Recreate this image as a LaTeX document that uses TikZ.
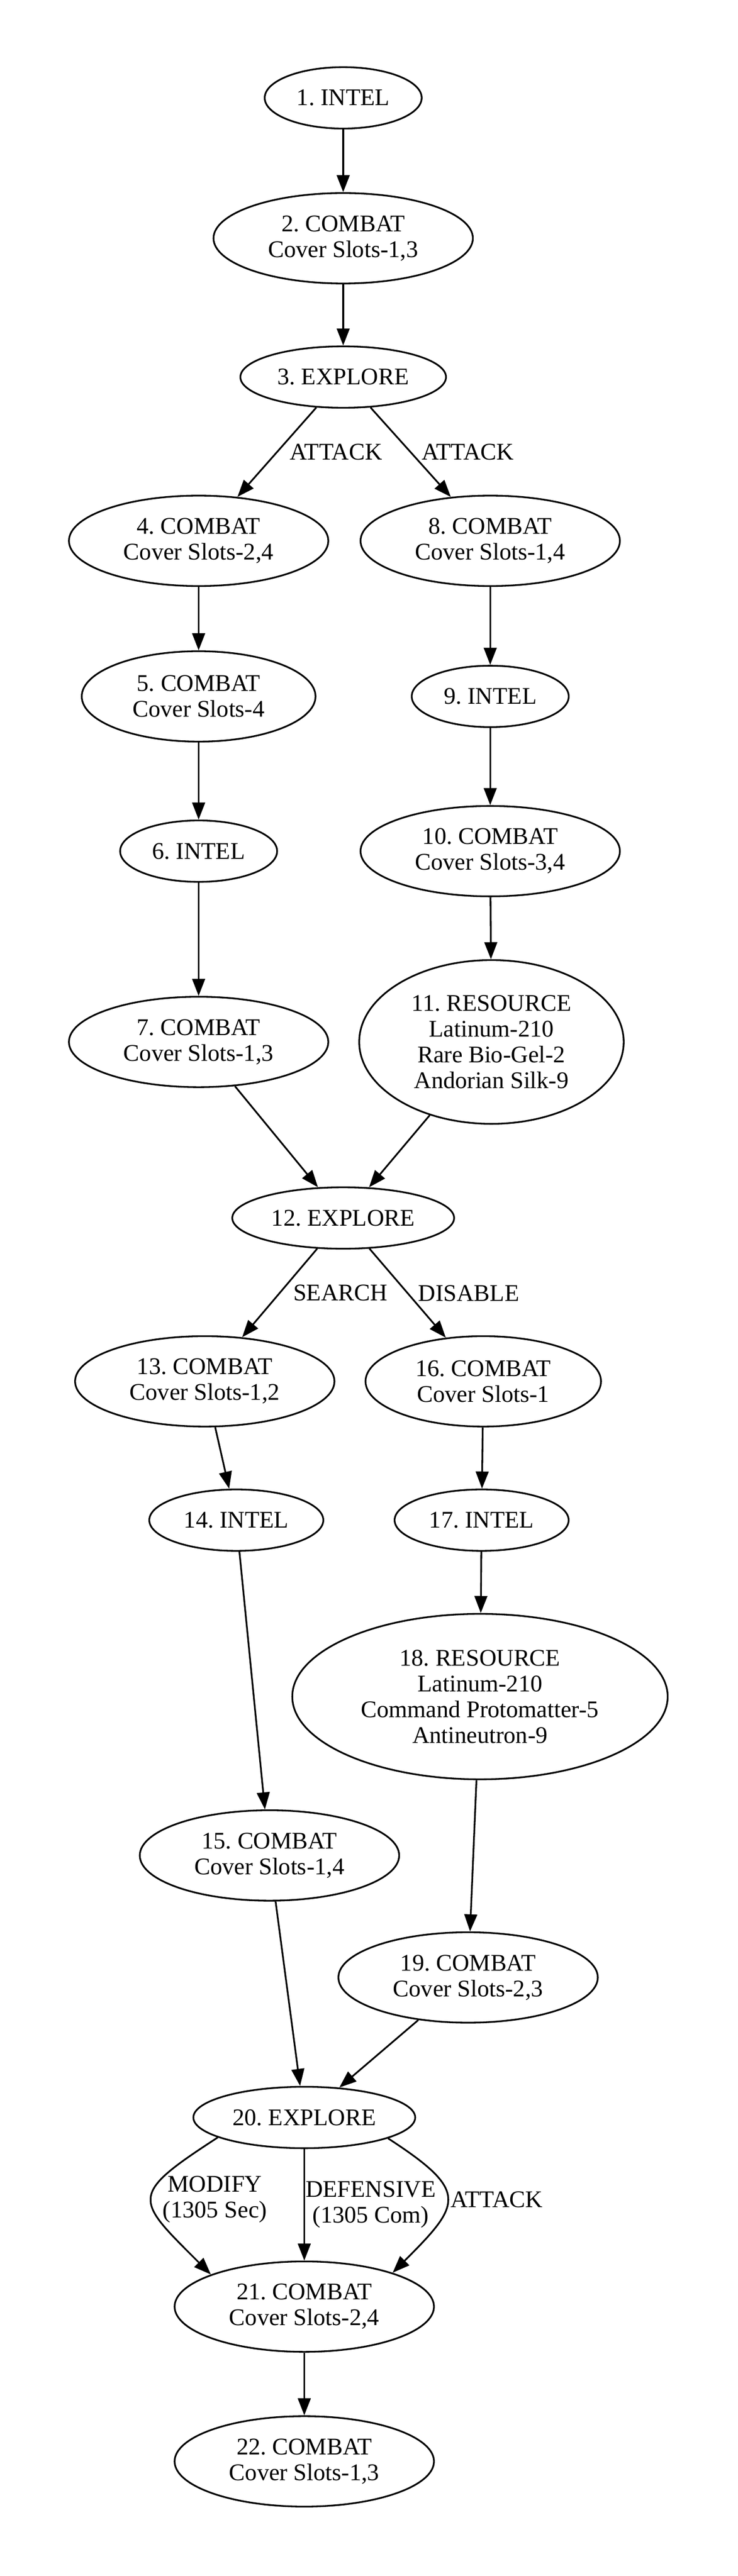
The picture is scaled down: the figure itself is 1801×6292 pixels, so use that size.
\documentclass[tikz,border=0pt]{standalone}
\usepackage{fontspec}
\setmainfont{Liberation Serif}
\usetikzlibrary{shapes.geometric,arrows.meta}
\frenchspacing

\tikzset{
	ell/.style={draw, ellipse, line width=1pt, inner sep=0pt, align=center, font=\fontsize{14}{15.1}\selectfont},
	intel/.style={ell, minimum width=92pt, minimum height=36pt},
	combat/.style={ell, minimum width=152pt, minimum height=53pt},
	explore/.style={ell, minimum width=120.5pt, minimum height=36pt},
	resource/.style={ell, minimum width=155pt, minimum height=96pt},
	arr/.style={line width=1pt, -{Triangle[length=10pt,width=7.5pt]}},
	lbl/.style={anchor=west, inner sep=0pt, xshift=6.5pt, align=center, font=\fontsize{14}{15.1}\selectfont}
}

\begin{document}
\begin{tikzpicture}[x=0.24pt,y=-0.24pt]
	\useasboundingbox (0,0) rectangle (1801,6292);

	\node[intel] (1) at (838,239) {1. INTEL};
	\node[combat] (2) at (838,582) {2. COMBAT\\Cover Slots-1,3};
	\node[explore] (3) at (838,921) {3. EXPLORE};
	\node[combat] (4) at (485,1321) {4. COMBAT\\Cover Slots-2,4};
	\node[combat] (8) at (1197,1321) {8. COMBAT\\Cover Slots-1,4};
	\node[combat, minimum width=137pt] (5) at (485,1701) {5. COMBAT\\Cover Slots-4};
	\node[intel] (9) at (1197,1701) {9. INTEL};
	\node[intel] (6) at (485,2079) {6. INTEL};
	\node[combat] (10) at (1197,2079) {10. COMBAT\\Cover Slots-3,4};
	\node[combat] (7) at (485,2545) {7. COMBAT\\Cover Slots-1,3};
	\node[resource] (11) at (1200,2545) {11. RESOURCE\\Latinum-210\\Rare Bio-Gel-2\\Andorian Silk-9};
	\node[explore, minimum width=130pt] (12) at (838,2975) {12. EXPLORE};
	\node[combat] (13) at (500,3374) {13. COMBAT\\Cover Slots-1,2};
	\node[combat, minimum width=138pt] (16) at (1180,3374) {16. COMBAT\\Cover Slots-1};
	\node[intel, minimum width=102pt] (14) at (577,3713) {14. INTEL};
	\node[intel, minimum width=102pt] (17) at (1176,3713) {17. INTEL};
	\node[resource, minimum width=220pt, minimum height=97pt] (18) at (1172,4144) {18. RESOURCE\\Latinum-210\\Command Protomatter-5\\Antineutron-9};
	\node[combat] (15) at (658,4532) {15. COMBAT\\Cover Slots-1,4};
	\node[combat] (19) at (1143,4830) {19. COMBAT\\Cover Slots-2,3};
	\node[explore, minimum width=130pt] (20) at (743,5172) {20. EXPLORE};
	\node[combat] (21) at (743,5634) {21. COMBAT\\Cover Slots-2,4};
	\node[combat] (22) at (743,6012) {22. COMBAT\\Cover Slots-1,3};

	\path[draw,arr] (1) edge (2);
	\path[draw,arr] (2) edge (3);
	\path[draw,arr] (3) edge node[lbl, xshift=0.6pt] {ATTACK} (4);
	\path[draw,arr] (3) edge node[lbl, xshift=-0.6pt] {ATTACK} (8);
	\path[draw,arr] (4) edge (5);
	\path[draw,arr] (5) edge (6);
	\path[draw,arr] (6) edge (7);
	\path[draw,arr] (8) edge (9);
	\path[draw,arr] (9) edge (10);
	\path[draw,arr] (10) edge (11);
	\path[draw,arr] (7) edge (12);
	\path[draw,arr] (11) edge (12);
	\path[draw,arr] (12) edge node[lbl, xshift=1pt] {SEARCH} (13);
	\path[draw,arr] (12) edge node[lbl, xshift=-0.7pt] {DISABLE} (16);
	\path[draw,arr] (13) edge (14);
	\path[draw,arr] (14) edge (15);
	\path[draw,arr] (15) edge (20);
	\path[draw,arr] (16) edge (17);
	\path[draw,arr] (17) edge (18);
	\path[draw,arr] (18) edge (19);
	\path[draw,arr] (19) edge (20);
	\path (20.193) edge [arr, out=213, in=135, looseness=2] node[lbl, xshift=-0.7pt] {MODIFY\\(1305 Sec)} (21.161);
	\path[draw,arr] (20) edge node[lbl, xshift=-6.2pt] {DEFENSIVE\\(1305 Com)} (21);
	\path (20.-14) edge [arr, out=-33, in=45, looseness=1.85] node[lbl, xshift=-4.8pt] {ATTACK} (21.21);
	\path[draw,arr] (21) edge (22);
\end{tikzpicture}
\end{document}
